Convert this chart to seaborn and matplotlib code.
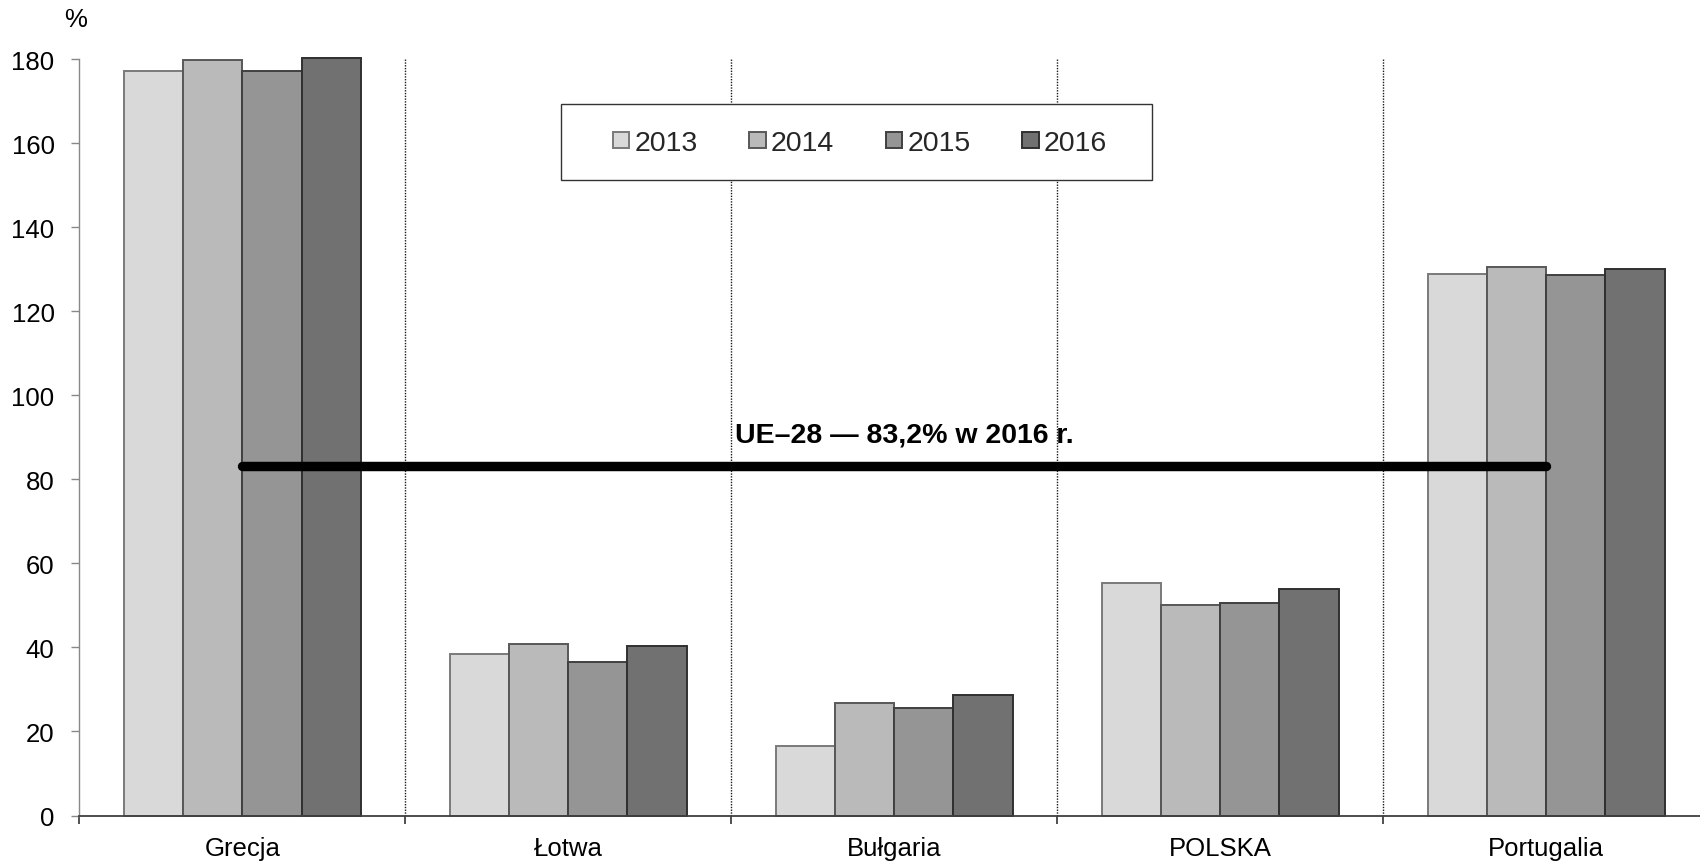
import matplotlib
matplotlib.use("Agg")
import matplotlib.pyplot as plt
from matplotlib.patches import Rectangle
import seaborn as sns
import pandas as pd

# dane
kraje = ["Grecja", "Łotwa", "Bułgaria", "POLSKA", "Portugalia"]
lata = ["2013", "2014", "2015", "2016"]
v_2013 = [177.3, 38.5, 16.6, 55.3, 129.0]
v_2014 = [179.8, 40.8, 26.8, 50.1, 130.6]
v_2015 = [177.1, 36.5, 25.6, 50.7, 128.7]
v_2016 = [180.3, 40.4, 28.7, 54.0, 130.1]
ue28 = 83.2
ue28_label = "UE–28 — 83,2% w 2016 r."

kolory = ["#d9d9d9", "#bababa", "#959595", "#717171"]
krawedzie = ["#7a7a7a", "#585858", "#404040", "#303030"]

rows = []
for rok, vals in zip(lata, [v_2013, v_2014, v_2015, v_2016]):
    for k, v in zip(kraje, vals):
        rows.append({"kraj": k, "rok": rok, "wartosc": v})
df = pd.DataFrame(rows)

sns.set_theme(style="white")
plt.rcParams["font.family"] = ["Liberation Sans", "DejaVu Sans"]

fig = plt.figure(figsize=(17, 8.62), dpi=100)
ax = fig.add_axes([79.3 / 1700, 45.5 / 862, (1709 - 79.3) / 1700, (816.5 - 60.3) / 862])

sns.barplot(data=df, x="kraj", y="wartosc", hue="rok", order=kraje, hue_order=lata,
            palette=kolory, saturation=1, width=0.727, gap=0, legend=False, ax=ax)

for cont, ec in zip(ax.containers, krawedzie):
    for bar in cont:
        bar.set_edgecolor(ec)
        bar.set_linewidth(1.4)
        bar.set_clip_on(False)

# linie rozdzielające grupy
n = len(kraje)
ax.vlines([i + 0.5 for i in range(n - 1)], 0, 180, colors="#1a1a1a",
          linestyles=(0, (1, 1)), linewidth=1.0, zorder=1)

# średnia UE-28
ax.plot([0, n - 1], [ue28, ue28], color="black", linewidth=6.8,
        solid_capstyle="round", zorder=4)
ax.annotate(ue28_label, xy=(2, ue28), xytext=(7, 22.5), textcoords="offset points",
            ha="center", va="center", fontsize=20.5, fontweight="bold", color="black")

ax.set_xlim(-0.5, n - 0.5)
ax.set_ylim(0, 180)
ax.set_yticks(range(0, 181, 20))
ax.set_xticks(range(n))
ax.set_xticklabels(kraje)
ax.set_xticks([i - 0.5 for i in range(n + 1)], minor=True)
ax.set_xlabel("")
ax.set_ylabel("")

ax.tick_params(axis="x", which="major", length=0, pad=15, labelsize=18.5, labelcolor="black")
ax.tick_params(axis="x", which="minor", direction="out", length=5.8, width=1.2,
               color="#333333", bottom=True)
ax.tick_params(axis="y", direction="out", length=5.8, width=1, color="#888888",
               pad=12, labelsize=18.5, labelcolor="black", left=True)

for s in ["top", "right"]:
    ax.spines[s].set_visible(False)
ax.spines["left"].set_color("#888888")
ax.spines["left"].set_linewidth(1.0)
ax.spines["bottom"].set_color("#404040")
ax.spines["bottom"].set_linewidth(1.3)

# legenda w ramce
ramka = Rectangle((561 / 1700, 1 - 181.3 / 862), (1152 - 561) / 1700, (181.3 - 104.7) / 862,
                  transform=fig.transFigure, facecolor="white", edgecolor="#333333",
                  linewidth=1.0, zorder=5, clip_on=False)
ax.add_patch(ramka)
leg = ax.legend(handles=ax.containers, labels=lata, ncol=4, frameon=False,
                loc="center", bbox_to_anchor=(860 / 1700, 1 - 144 / 862),
                bbox_transform=fig.transFigure, fontsize=20.5,
                handlelength=0.575, handleheight=0.49, handletextpad=0.19,
                columnspacing=1.81)
leg.set_zorder(6)

fig.text(76 / 1700, 1 - 20 / 862, "%", ha="center", va="center", fontsize=18.5, color="black")

fig.savefig("out.png", dpi=100)
